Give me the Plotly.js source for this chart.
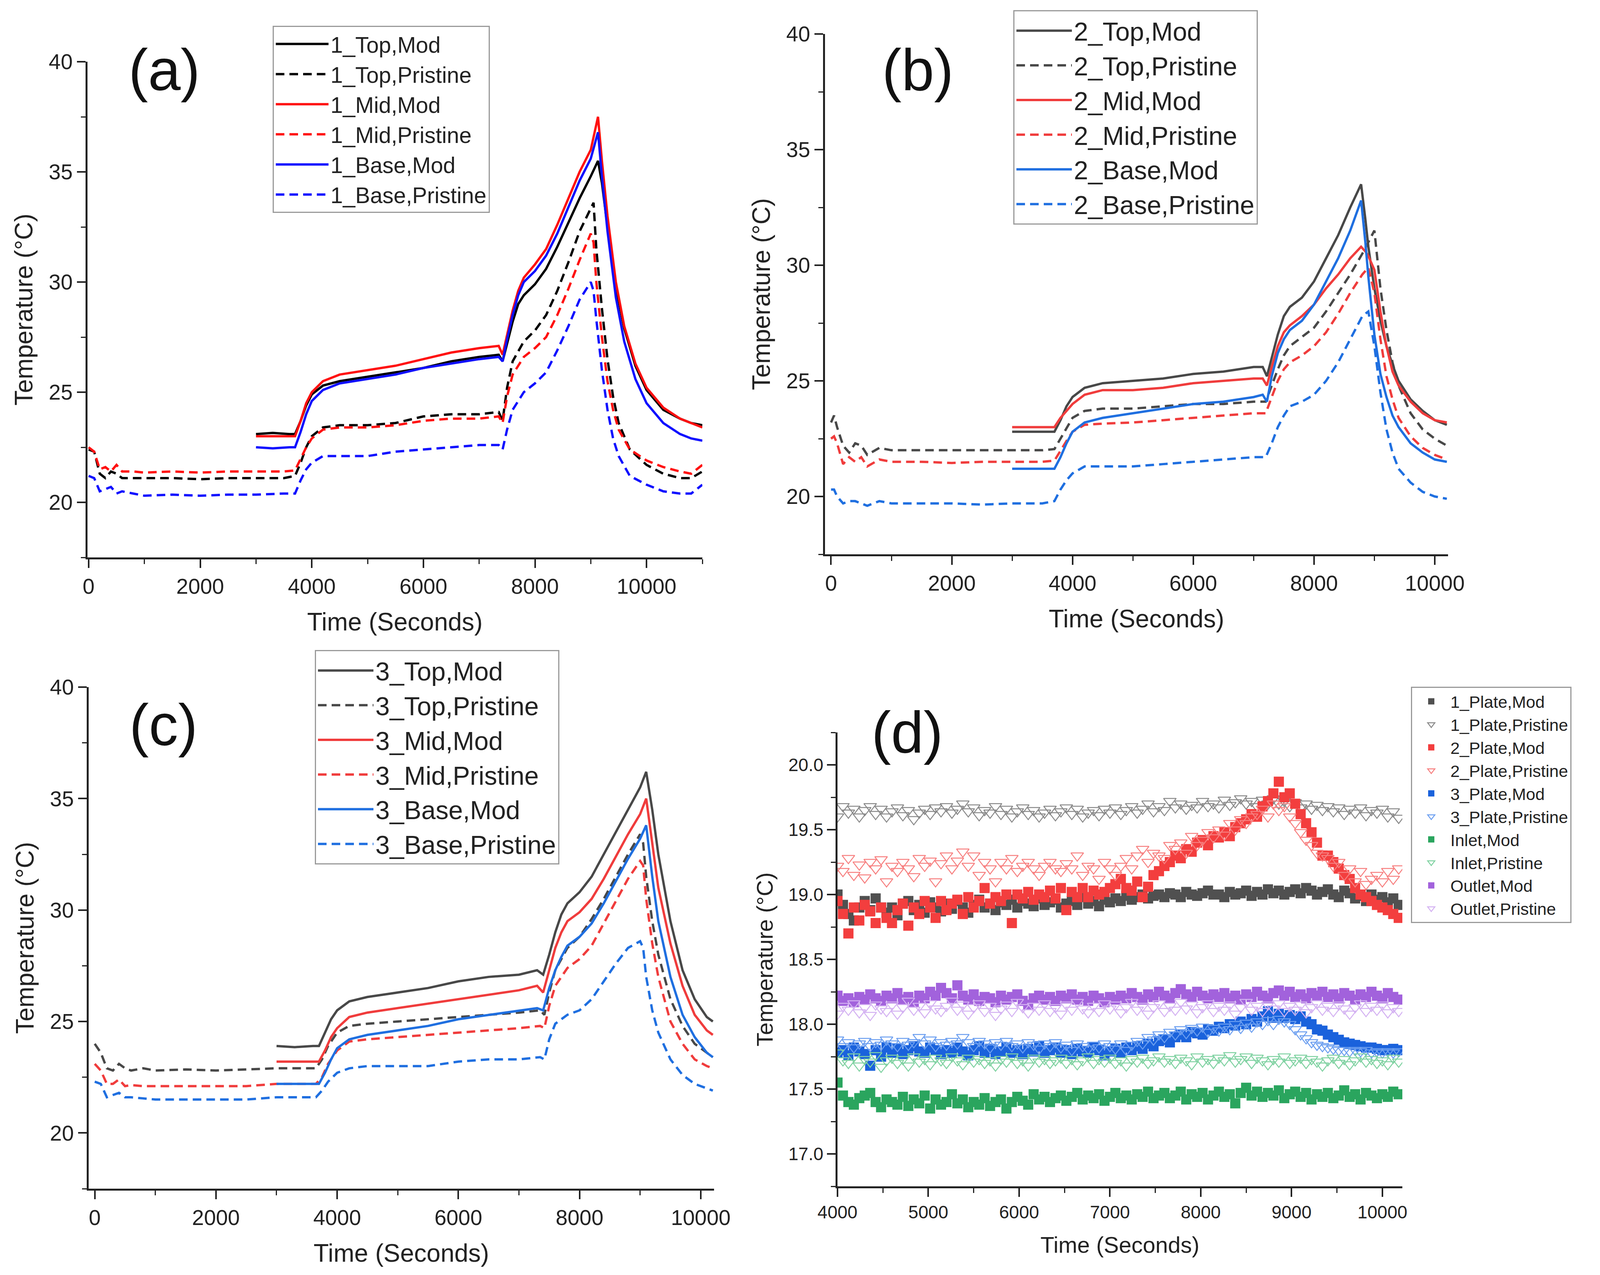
<!DOCTYPE html>
<html>
<head>
<meta charset="utf-8">
<script src="https://cdn.plot.ly/plotly-3.0.1.min.js"></script>
<style>html,body{margin:0;padding:0;background:#fff}#chart{width:4107px;height:3264px}</style>
</head>
<body>
<div id="chart"></div>
<script>
// ---------------- Panel (a) data ----------------
const tA_mod = [3000,3300,3600,3700,3800,3900,4000,4200,4500,5000,5500,6000,6500,7000,7350,7420,7500,7600,7700,7800,8000,8200,8400,8600,8800,9000,9130,9200,9300,9450,9600,9800,10000,10300,10600,10800,11000];
const a_top_mod  = [23.1,23.15,23.1,23.1,23.7,24.4,24.9,25.3,25.5,25.7,25.9,26.1,26.4,26.6,26.7,26.4,27.2,28.2,29.0,29.4,29.9,30.6,31.6,32.7,33.8,34.8,35.5,34.5,32.5,29.8,27.9,26.2,25.1,24.2,23.8,23.6,23.5];
const a_mid_mod  = [23.0,23.0,23.0,23.0,23.7,24.5,25.0,25.5,25.8,26.0,26.2,26.5,26.8,27.0,27.1,26.7,27.6,28.7,29.6,30.2,30.8,31.5,32.6,33.8,35.0,36.0,37.5,35.5,33.0,30.0,28.0,26.3,25.2,24.3,23.8,23.6,23.4];
const a_base_mod = [22.5,22.45,22.5,22.5,23.2,24.0,24.6,25.1,25.4,25.6,25.8,26.1,26.3,26.5,26.6,26.4,27.4,28.5,29.4,30.0,30.5,31.2,32.2,33.4,34.6,35.6,36.8,34.8,32.3,29.3,27.3,25.6,24.5,23.6,23.1,22.9,22.8];
const tA_pris = [0,100,200,300,400,500,600,800,1000,1500,2000,2500,3000,3500,3700,3800,3900,4000,4200,4500,5000,5500,6000,6500,7000,7350,7420,7500,7600,7800,8000,8200,8400,8600,8800,9000,9050,9100,9200,9300,9400,9500,9700,10000,10300,10600,10800,11000];
const a_top_pris  = [22.4,22.3,21.3,21.1,21.4,21.3,21.1,21.1,21.1,21.1,21.05,21.1,21.1,21.1,21.2,21.8,22.5,23.0,23.4,23.5,23.5,23.6,23.9,24.0,24.0,24.1,23.7,25.2,26.4,27.3,27.8,28.5,29.6,30.9,32.3,33.3,33.6,31.5,28.8,26.5,24.8,23.6,22.4,21.7,21.3,21.1,21.1,21.4];
const a_mid_pris  = [22.5,22.3,21.5,21.6,21.4,21.7,21.4,21.4,21.35,21.4,21.35,21.4,21.4,21.4,21.45,22.0,22.5,22.9,23.3,23.4,23.4,23.5,23.7,23.8,23.8,23.9,23.6,24.8,25.8,26.6,27.0,27.5,28.5,29.7,31.0,32.2,31.8,30.0,27.5,25.5,24.2,23.3,22.4,21.9,21.6,21.4,21.3,21.7];
const a_base_pris = [21.2,21.1,20.5,20.6,20.7,20.4,20.5,20.4,20.3,20.35,20.3,20.35,20.35,20.4,20.4,21.0,21.5,21.8,22.1,22.1,22.1,22.3,22.4,22.5,22.6,22.6,22.4,23.3,24.2,25.0,25.4,25.9,26.9,28.0,29.2,30.0,29.6,28.3,26.0,24.2,22.9,22.1,21.2,20.8,20.5,20.4,20.4,20.8];

// ---------------- Panel (b) data ----------------
const tB_mod = [3000,3300,3600,3700,3800,3900,4000,4200,4500,5000,5500,6000,6500,7000,7150,7220,7300,7400,7500,7600,7800,8000,8200,8400,8600,8780,8850,8900,9000,9100,9200,9300,9400,9600,9800,10000,10200];
const b_top_mod  = [22.8,22.8,22.8,22.8,23.3,23.9,24.3,24.7,24.9,25.0,25.1,25.3,25.4,25.6,25.6,25.2,26.0,27.0,27.8,28.2,28.6,29.3,30.3,31.3,32.5,33.5,32.0,30.8,29.0,27.6,26.5,25.7,25.0,24.2,23.7,23.3,23.1];
const b_mid_mod  = [23.0,23.0,23.0,23.0,23.4,23.7,24.0,24.4,24.6,24.6,24.7,24.9,25.0,25.1,25.1,24.8,25.6,26.5,27.1,27.4,27.8,28.3,29.0,29.6,30.3,30.8,30.6,30.4,29.8,28.0,26.5,25.4,24.8,24.1,23.6,23.3,23.2];
const b_base_mod = [21.2,21.2,21.2,21.2,21.7,22.3,22.8,23.2,23.4,23.6,23.8,24.0,24.1,24.3,24.4,24.1,25.2,26.2,26.8,27.2,27.6,28.3,29.3,30.3,31.5,32.8,31.0,29.5,27.0,25.3,24.3,23.5,23.0,22.3,21.9,21.6,21.5];
const tB_pris = [0,50,100,200,300,400,500,600,800,1000,1500,2000,2500,3000,3500,3700,3800,3900,4000,4200,4500,5000,5500,6000,6500,7000,7200,7300,7400,7500,7600,7800,8000,8200,8400,8600,8800,8900,9000,9100,9200,9300,9400,9600,9800,10000,10200];
const b_top_pris  = [23.2,23.5,23.0,22.2,21.9,22.3,22.2,21.8,22.1,22.0,22.0,22.0,22.0,22.0,22.0,22.05,22.5,23.0,23.4,23.7,23.8,23.8,23.9,24.0,24.0,24.1,24.1,24.8,25.5,26.1,26.5,26.9,27.3,28.0,28.8,29.6,30.5,31.0,31.5,29.0,27.2,25.8,24.8,23.6,22.9,22.5,22.2];
const b_mid_pris  = [22.5,22.6,22.3,21.4,21.7,21.5,21.7,21.3,21.6,21.5,21.5,21.45,21.5,21.5,21.5,21.55,22.0,22.4,22.8,23.1,23.15,23.2,23.3,23.4,23.5,23.6,23.6,24.3,25.0,25.5,25.8,26.1,26.5,27.1,27.9,28.8,29.6,29.9,28.8,26.8,25.2,24.2,23.4,22.6,22.1,21.8,21.6];
const b_base_pris = [20.3,20.3,20.0,19.7,19.8,19.8,19.7,19.6,19.8,19.7,19.7,19.7,19.65,19.7,19.7,19.8,20.3,20.7,21.0,21.3,21.3,21.3,21.4,21.5,21.6,21.7,21.7,22.3,23.0,23.5,23.9,24.1,24.4,25.0,25.8,26.8,27.8,28.0,26.5,24.5,22.9,21.9,21.2,20.6,20.2,20.0,19.9];

// ---------------- Panel (c) data ----------------
const tC_mod = [3000,3300,3600,3700,3800,3900,4000,4200,4500,5000,5500,6000,6500,7000,7300,7400,7500,7600,7700,7800,8000,8200,8400,8600,8800,9000,9100,9200,9300,9500,9700,9900,10100,10200];
const c_top_mod  = [23.9,23.85,23.9,23.9,24.5,25.1,25.5,25.9,26.1,26.3,26.5,26.8,27.0,27.1,27.3,27.1,28.0,29.0,29.8,30.3,30.8,31.5,32.5,33.5,34.5,35.5,36.2,34.5,32.5,29.5,27.3,26.0,25.2,25.0];
const c_mid_mod  = [23.2,23.2,23.2,23.2,23.7,24.3,24.7,25.2,25.4,25.6,25.8,26.0,26.2,26.4,26.6,26.3,27.3,28.3,29.0,29.5,29.9,30.5,31.4,32.4,33.4,34.3,35.0,33.0,31.0,28.5,26.6,25.3,24.6,24.4];
const c_base_mod = [22.2,22.2,22.2,22.2,22.7,23.3,23.8,24.2,24.4,24.6,24.8,25.1,25.3,25.5,25.6,25.5,26.5,27.3,27.9,28.4,28.8,29.4,30.3,31.3,32.3,33.2,33.8,31.5,29.5,27.0,25.3,24.3,23.6,23.4];
const tC_pris = [0,100,200,300,400,500,600,800,1000,1500,2000,2500,3000,3500,3650,3750,3850,4000,4200,4500,5000,5500,6000,6500,7000,7350,7420,7500,7600,7800,8000,8200,8400,8600,8800,9000,9050,9100,9200,9300,9500,9700,9900,10100,10200];
const c_top_pris  = [24.0,23.6,22.9,22.8,23.1,22.9,22.8,22.9,22.8,22.85,22.8,22.85,22.9,22.9,22.9,23.3,23.9,24.5,24.8,24.9,25.0,25.1,25.2,25.3,25.4,25.5,25.3,26.3,27.3,28.3,28.8,29.6,30.5,31.5,32.5,33.4,33.0,31.5,29.5,28.0,26.0,24.8,24.0,23.6,23.4];
const c_mid_pris  = [23.1,22.8,22.2,22.2,22.4,22.1,22.15,22.1,22.1,22.1,22.1,22.1,22.2,22.2,22.2,22.5,23.1,23.7,24.1,24.2,24.3,24.4,24.5,24.6,24.7,24.8,24.7,25.7,26.6,27.4,27.8,28.4,29.4,30.4,31.4,32.2,32.0,30.5,28.5,27.0,25.0,24.0,23.3,23.0,22.9];
const c_base_pris = [22.3,22.2,21.6,21.7,21.8,21.6,21.6,21.55,21.5,21.5,21.5,21.5,21.6,21.6,21.6,21.9,22.3,22.7,22.9,23.0,23.0,23.0,23.2,23.3,23.3,23.4,23.3,24.2,24.9,25.3,25.5,26.0,26.8,27.6,28.3,28.6,28.3,27.0,25.5,24.5,23.3,22.6,22.2,22.0,21.9];

// ---------------- Panel (d) data ----------------
const tD = [4000,4060,4120,4180,4240,4300,4360,4420,4480,4540,4600,4660,4720,4780,4840,4900,4960,5020,5080,5140,5200,5260,5320,5380,5440,5500,5560,5620,5680,5740,5800,5860,5920,5980,6040,6100,6160,6220,6280,6340,6400,6460,6520,6580,6640,6700,6760,6820,6880,6940,7000,7060,7120,7180,7240,7300,7360,7420,7480,7540,7600,7660,7720,7780,7840,7900,7960,8020,8080,8140,8200,8260,8320,8380,8440,8500,8560,8620,8680,8740,8800,8860,8920,8980,9040,9100,9160,9220,9280,9340,9400,9460,9520,9580,9640,9700,9760,9820,9880,9940,10000,10060,10120,10180];
const plate1Mod = [19.0,18.92,18.85,18.8,18.9,18.95,18.88,18.97,18.9,18.86, 18.9,18.84,18.93,18.95,18.88,18.92,18.86,18.94,18.9,18.87, 18.93,18.89,18.95,18.9,18.86,18.92,18.96,18.9,18.93,18.88, 18.94,18.92,18.96,18.9,18.95,18.93,18.91,18.97,18.92,18.94, 18.96,18.9,18.93,18.95,18.92,18.98,18.93,18.95,18.91,18.96, 18.94,18.97,18.95,18.99,18.96,18.98,19.0,18.97,18.99,19.0, 18.98,19.01,19.0,18.98,19.02,19.0,18.99,19.01,19.03,19.0, 19.0,18.98,19.02,19.0,19.01,19.03,18.99,19.02,19.0,19.04, 19.01,19.03,19.0,19.02,19.04,19.01,19.05,19.03,19.0,19.02, 19.04,19.0,18.98,19.03,19.01,18.97,18.99,18.95,19.0,18.96, 18.98,18.94,18.97,18.92];
const plate1Pris = [19.6,19.68,19.63,19.66,19.6,19.65,19.68,19.62,19.66,19.6, 19.64,19.67,19.61,19.65,19.58,19.63,19.66,19.62,19.67,19.64, 19.68,19.63,19.66,19.7,19.64,19.67,19.61,19.65,19.63,19.68, 19.62,19.66,19.6,19.64,19.67,19.62,19.65,19.6,19.63,19.66, 19.61,19.64,19.67,19.62,19.66,19.6,19.63,19.65,19.61,19.66, 19.63,19.67,19.62,19.65,19.68,19.63,19.66,19.7,19.64,19.68, 19.65,19.72,19.67,19.7,19.66,19.69,19.67,19.72,19.68,19.7, 19.67,19.73,19.69,19.71,19.74,19.7,19.72,19.68,19.73,19.7, 19.74,19.7,19.72,19.68,19.71,19.67,19.7,19.66,19.69,19.65, 19.68,19.64,19.67,19.62,19.66,19.63,19.67,19.61,19.65,19.63, 19.66,19.6,19.64,19.59];
const plate2Mod = [18.95,18.85,18.7,18.9,18.8,18.92,18.87,18.78,18.9,18.82, 18.78,18.88,18.93,18.76,18.9,18.85,18.95,18.9,18.82,18.95, 18.88,18.93,18.96,18.85,18.98,18.9,18.95,19.05,18.93,18.98, 18.95,19.0,18.78,19.0,18.97,19.02,18.96,19.0,18.98,19.03, 18.97,19.05,18.88,19.02,18.98,19.05,18.98,19.03,19.0,19.02, 19.05,19.08,19.12,19.05,19.03,19.1,18.98,19.06,19.15,19.18, 19.22,19.25,19.3,19.28,19.35,19.33,19.4,19.42,19.38,19.45, 19.44,19.48,19.45,19.52,19.55,19.58,19.62,19.6,19.68,19.72, 19.78,19.87,19.75,19.78,19.7,19.62,19.55,19.48,19.4,19.3, 19.3,19.25,19.2,19.15,19.12,19.05,19.0,18.98,18.95,18.92, 18.9,18.88,18.85,18.82];
const plate2Pris = [19.22,19.18,19.28,19.15,19.23,19.13,19.25,19.2,19.27,19.1, 19.22,19.18,19.25,19.2,19.14,19.28,19.22,19.26,19.1,19.24, 19.3,19.2,19.26,19.33,19.22,19.3,19.15,19.25,19.2,19.1, 19.25,19.2,19.28,19.18,19.22,19.25,19.2,19.15,19.22,19.25, 19.2,19.18,19.24,19.2,19.3,19.15,19.22,19.2,19.12,19.25, 19.2,19.15,19.22,19.28,19.2,19.3,19.35,19.25,19.32,19.3, 19.28,19.38,19.35,19.4,19.32,19.45,19.38,19.42,19.48,19.44, 19.5,19.46,19.55,19.5,19.58,19.55,19.6,19.62,19.66,19.6, 19.7,19.65,19.68,19.6,19.55,19.48,19.42,19.38,19.32,19.3, 19.28,19.22,19.25,19.15,19.2,19.1,19.18,19.08,19.12,19.15, 19.1,19.18,19.12,19.2];
const plate3Mod = [17.78,17.8,17.76,17.82,17.79,17.77,17.68,17.8,17.75,17.82, 17.78,17.81,17.77,17.8,17.83,17.79,17.78,17.82,17.8,17.77, 17.8,17.78,17.82,17.79,17.76,17.8,17.83,17.78,17.81,17.77, 17.79,17.82,17.78,17.8,17.77,17.81,17.79,17.83,17.78,17.8, 17.82,17.78,17.8,17.77,17.81,17.79,17.78,17.82,17.8,17.76, 17.79,17.81,17.78,17.82,17.8,17.83,17.81,17.85,17.83,17.87, 17.88,17.86,17.9,17.92,17.9,17.94,17.93,17.92,17.96,17.95, 17.98,17.97,18.0,17.99,18.02,18.0,18.04,18.02,18.06,18.1, 18.05,18.08,18.05,18.07,18.04,18.06,18.02,18.0,17.96,17.95, 17.92,17.9,17.88,17.86,17.85,17.84,17.83,17.82,17.82,17.81, 17.8,17.8,17.81,17.8];
const plate3Pris = [17.88,17.83,17.86,17.82,17.85,17.87,17.83,17.86,17.84,17.88, 17.85,17.83,17.87,17.84,17.86,17.9,17.85,17.88,17.83,17.86, 17.84,17.87,17.85,17.9,17.86,17.83,17.87,17.85,17.82,17.86, 17.84,17.87,17.83,17.85,17.82,17.86,17.84,17.81,17.85,17.83, 17.86,17.82,17.84,17.8,17.85,17.83,17.81,17.84,17.82,17.85, 17.83,17.81,17.85,17.8,17.84,17.87,17.85,17.9,17.88,17.92, 17.9,17.94,17.92,17.96,17.93,17.97,17.95,17.98,17.94,17.97, 17.95,17.98,17.96,18.0,17.97,18.01,17.98,18.02,18.0,18.03, 18.0,18.04,18.02,18.0,17.96,17.92,17.89,17.86,17.84,17.83, 17.82,17.81,17.8,17.8,17.79,17.8,17.79,17.8,17.78,17.79, 17.78,17.79,17.78,17.79];
const inletMod = [17.55,17.45,17.4,17.38,17.43,17.45,17.47,17.4,17.36,17.42, 17.4,17.38,17.44,17.37,17.42,17.39,17.45,17.35,17.42,17.38, 17.4,17.46,17.39,17.42,17.36,17.4,17.38,17.43,17.37,17.4, 17.42,17.35,17.4,17.44,17.41,17.38,17.46,17.42,17.44,17.4, 17.43,17.45,17.41,17.44,17.47,17.42,17.45,17.43,17.46,17.41, 17.44,17.47,17.43,17.45,17.42,17.46,17.44,17.48,17.43,17.45, 17.47,17.43,17.45,17.48,17.42,17.46,17.44,17.47,17.42,17.45, 17.48,17.44,17.46,17.39,17.47,17.51,17.45,17.48,17.44,17.47, 17.45,17.49,17.43,17.46,17.48,17.44,17.47,17.42,17.46,17.44, 17.47,17.43,17.45,17.49,17.44,17.46,17.42,17.47,17.45,17.43, 17.46,17.44,17.48,17.46];
const inletPris = [17.78,17.72,17.7,17.75,17.68,17.73,17.71,17.76,17.67,17.72, 17.74,17.7,17.73,17.68,17.75,17.71,17.73,17.69,17.74,17.72, 17.7,17.75,17.72,17.69,17.74,17.71,17.73,17.7,17.72,17.68, 17.73,17.71,17.75,17.7,17.72,17.68,17.74,17.71,17.73,17.7, 17.72,17.74,17.7,17.73,17.69,17.72,17.75,17.7,17.73,17.71, 17.74,17.7,17.72,17.68,17.73,17.71,17.74,17.7,17.72,17.75, 17.71,17.73,17.7,17.74,17.72,17.69,17.75,17.71,17.73,17.7, 17.74,17.72,17.76,17.71,17.73,17.75,17.7,17.74,17.72,17.69, 17.73,17.71,17.75,17.7,17.72,17.74,17.7,17.73,17.71,17.68, 17.72,17.74,17.7,17.73,17.69,17.72,17.75,17.71,17.73,17.7, 17.72,17.69,17.74,17.71];
const outletMod = [18.22,18.18,18.2,18.17,18.21,18.19,18.23,18.2,18.18,18.22, 18.2,18.24,18.19,18.21,18.17,18.22,18.2,18.25,18.22,18.28, 18.24,18.2,18.3,18.22,18.19,18.23,18.18,18.21,18.2,18.17, 18.22,18.19,18.21,18.23,18.18,18.15,18.2,18.22,18.19,18.21, 18.18,18.22,18.2,18.23,18.19,18.21,18.18,18.22,18.2,18.17, 18.21,18.19,18.22,18.2,18.24,18.21,18.19,18.23,18.21,18.25, 18.22,18.2,18.24,18.27,18.23,18.21,18.25,18.22,18.2,18.23, 18.21,18.24,18.2,18.22,18.19,18.23,18.21,18.25,18.22,18.2, 18.24,18.26,18.22,18.25,18.21,18.23,18.2,18.24,18.22,18.25, 18.21,18.23,18.2,18.24,18.22,18.19,18.23,18.21,18.25,18.22, 18.2,18.24,18.21,18.19];
const outletPris = [18.08,18.14,18.11,18.16,18.09,18.13,18.07,18.15,18.12,18.1, 18.15,18.08,18.13,18.18,18.11,18.14,18.09,18.16,18.12,18.1, 18.14,18.18,18.11,18.15,18.08,18.13,18.16,18.1,18.14,18.07, 18.12,18.15,18.1,18.17,18.13,18.09,18.14,18.11,18.16,18.1, 18.13,18.08,18.15,18.11,18.17,18.12,18.09,18.14,18.1,18.16, 18.12,18.15,18.09,18.13,18.17,18.11,18.14,18.08,18.13,18.16, 18.1,18.14,18.11,18.17,18.12,18.15,18.09,18.13,18.16,18.1, 18.14,18.11,18.15,18.08,18.13,18.17,18.11,18.14,18.1,18.15, 18.12,18.16,18.1,18.14,18.11,18.15,18.09,18.13,18.16,18.11, 18.14,18.1,18.15,18.12,18.08,18.13,18.16,18.1,18.14,18.11, 18.15,18.09,18.13,18.1];

// ---------------- Layout helpers ----------------
const W = 4107, H = 3264;
const FONT = 'Liberation Sans, Arial, Helvetica, sans-serif';
const INK = '#222222';
const fx = p => p / W;
const fy = p => 1 - p / H;
const DASH = '22px,13px';

function lineTrace(x, y, name, color, dashed, ax, lg) {
  return { type: 'scatter', mode: 'lines', x: x, y: y, name: name,
    line: { color: color, width: 6, dash: dashed ? DASH : 'solid' },
    xaxis: 'x' + ax, yaxis: 'y' + ax, legend: lg };
}
function ptTrace(y, name, color, open) {
  return { type: 'scatter', mode: 'markers', x: tD, y: y, name: name,
    marker: open ? { symbol: 'triangle-down-open', size: 28, color: color, line: { width: 2.5, color: color } }
                 : { symbol: 'square', size: 26, color: color },
    xaxis: 'x4', yaxis: 'y4', legend: 'legend4' };
}

const cA = { top: '#000000', mid: '#ff1010', base: '#1010ff' };
const cB = { top: '#484848', mid: '#f03c3c', base: '#1f6fe0' };

const traces = [
  lineTrace(tA_mod, a_top_mod, '1_Top,Mod', cA.top, false, '', 'legend'),
  lineTrace(tA_pris, a_top_pris, '1_Top,Pristine', cA.top, true, '', 'legend'),
  lineTrace(tA_mod, a_mid_mod, '1_Mid,Mod', cA.mid, false, '', 'legend'),
  lineTrace(tA_pris, a_mid_pris, '1_Mid,Pristine', cA.mid, true, '', 'legend'),
  lineTrace(tA_mod, a_base_mod, '1_Base,Mod', cA.base, false, '', 'legend'),
  lineTrace(tA_pris, a_base_pris, '1_Base,Pristine', cA.base, true, '', 'legend'),

  lineTrace(tB_mod, b_top_mod, '2_Top,Mod', cB.top, false, '2', 'legend2'),
  lineTrace(tB_pris, b_top_pris, '2_Top,Pristine', cB.top, true, '2', 'legend2'),
  lineTrace(tB_mod, b_mid_mod, '2_Mid,Mod', cB.mid, false, '2', 'legend2'),
  lineTrace(tB_pris, b_mid_pris, '2_Mid,Pristine', cB.mid, true, '2', 'legend2'),
  lineTrace(tB_mod, b_base_mod, '2_Base,Mod', cB.base, false, '2', 'legend2'),
  lineTrace(tB_pris, b_base_pris, '2_Base,Pristine', cB.base, true, '2', 'legend2'),

  lineTrace(tC_mod, c_top_mod, '3_Top,Mod', cB.top, false, '3', 'legend3'),
  lineTrace(tC_pris, c_top_pris, '3_Top,Pristine', cB.top, true, '3', 'legend3'),
  lineTrace(tC_mod, c_mid_mod, '3_Mid,Mod', cB.mid, false, '3', 'legend3'),
  lineTrace(tC_pris, c_mid_pris, '3_Mid,Pristine', cB.mid, true, '3', 'legend3'),
  lineTrace(tC_mod, c_base_mod, '3_Base,Mod', cB.base, false, '3', 'legend3'),
  lineTrace(tC_pris, c_base_pris, '3_Base,Pristine', cB.base, true, '3', 'legend3'),

  ptTrace(plate1Mod, '1_Plate,Mod', '#505050', false),
  ptTrace(plate1Pris, '1_Plate,Pristine', '#8a8a8a', true),
  ptTrace(plate2Mod, '2_Plate,Mod', '#f33e3e', false),
  ptTrace(plate2Pris, '2_Plate,Pristine', '#f78080', true),
  ptTrace(plate3Mod, '3_Plate,Mod', '#1a62dc', false),
  ptTrace(plate3Pris, '3_Plate,Pristine', '#6c9ff0', true),
  ptTrace(inletMod, 'Inlet,Mod', '#2aa55e', false),
  ptTrace(inletPris, 'Inlet,Pristine', '#80d2a2', true),
  ptTrace(outletMod, 'Outlet,Mod', '#a262dc', false),
  ptTrace(outletPris, 'Outlet,Pristine', '#d4b2f2', true)
];

function xax(anchor, domain, range, dtick, minor, titleSize, tickSize, standoff) {
  return { anchor: anchor, domain: domain, range: range, dtick: dtick, tick0: 0, showgrid: false, zeroline: false,
    showline: true, linecolor: INK, linewidth: 5, ticks: 'outside', ticklen: 22, tickwidth: 4, tickcolor: INK,
    minor: { ticks: 'outside', ticklen: 12, tickwidth: 3, tickcolor: INK, dtick: minor, showgrid: false },
    tickformat: 'd', exponentformat: 'none',
    tickfont: { family: FONT, size: tickSize, color: INK }, automargin: false,
    title: { text: 'Time (Seconds)', font: { family: FONT, size: titleSize, color: INK }, standoff: standoff } };
}
function yax(anchor, domain, range, dtick, minor, titleSize, tickSize, standoff, fmt) {
  return { anchor: anchor, domain: domain, range: range, dtick: dtick, tick0: 0, showgrid: false, zeroline: false,
    showline: true, linecolor: INK, linewidth: 5, ticks: 'outside', ticklen: 22, tickwidth: 4, tickcolor: INK,
    minor: { ticks: 'outside', ticklen: 12, tickwidth: 3, tickcolor: INK, dtick: minor, showgrid: false },
    tickformat: fmt, tickfont: { family: FONT, size: tickSize, color: INK }, automargin: false,
    title: { text: 'Temperature (°C)', font: { family: FONT, size: titleSize, color: INK }, standoff: standoff } };
}
function legendBox(x, y, size, iw) {
  return { x: fx(x), y: fy(y), xanchor: 'left', yanchor: 'top', bgcolor: '#ffffff',
    bordercolor: '#9a9a9a', borderwidth: 3, font: { family: FONT, size: size, color: INK },
    tracegroupgap: 0, itemwidth: iw };
}
function letter(txt, x, y) {
  return { text: txt, xref: 'paper', yref: 'paper', x: fx(x), y: fy(y), xanchor: 'center', yanchor: 'middle',
    showarrow: false, font: { family: FONT, size: 150, color: '#111' } };
}

const layout = {
  width: W, height: H, margin: { l: 0, r: 0, t: 0, b: 0 },
  paper_bgcolor: '#ffffff', plot_bgcolor: '#ffffff', showlegend: true,
  font: { family: FONT, color: INK },
  xaxis:  xax('y',  [fx(224), fx(1798)], [-20, 11000], 2000, 1000, 64, 55, 40),
  yaxis:  yax('x',  [fy(1427), fy(158)], [17.5, 40], 5, 2.5, 64, 55, 22, 'd'),
  xaxis2: xax('y2', [fx(2112), fx(3707)], [-100, 10220], 2000, 1000, 64, 55, 40),
  yaxis2: yax('x2', [fy(1419), fy(87)], [17.5, 40], 5, 2.5, 64, 55, 22, 'd'),
  xaxis3: xax('y3', [fx(227), fx(1828)], [-100, 10220], 2000, 1000, 64, 55, 40),
  yaxis3: yax('x3', [fy(3043), fy(1759)], [17.5, 40], 5, 2.5, 64, 55, 22, 'd'),
  xaxis4: xax('y4', [fx(2144), fx(3590)], [4000, 10220], 1000, 500, 58, 46, 40),
  yaxis4: yax('x4', [fy(3037), fy(1875)], [16.75, 20.25], 0.5, 0.25, 58, 46, 22, '.1f'),
  legend:  legendBox(698, 66, 57, 135),
  legend2: legendBox(2594, 26, 66, 142),
  legend3: legendBox(806, 1664, 66, 142),
  legend4: legendBox(3612, 1758, 43, 88),
  annotations: [
    letter('(a)', 421, 179),
    letter('(b)', 2349, 179),
    letter('(c)', 418, 1856),
    letter('(d)', 2322, 1875)
  ]
};

Plotly.newPlot('chart', traces, layout, { staticPlot: true, displayModeBar: false });
</script>
</body>
</html>
